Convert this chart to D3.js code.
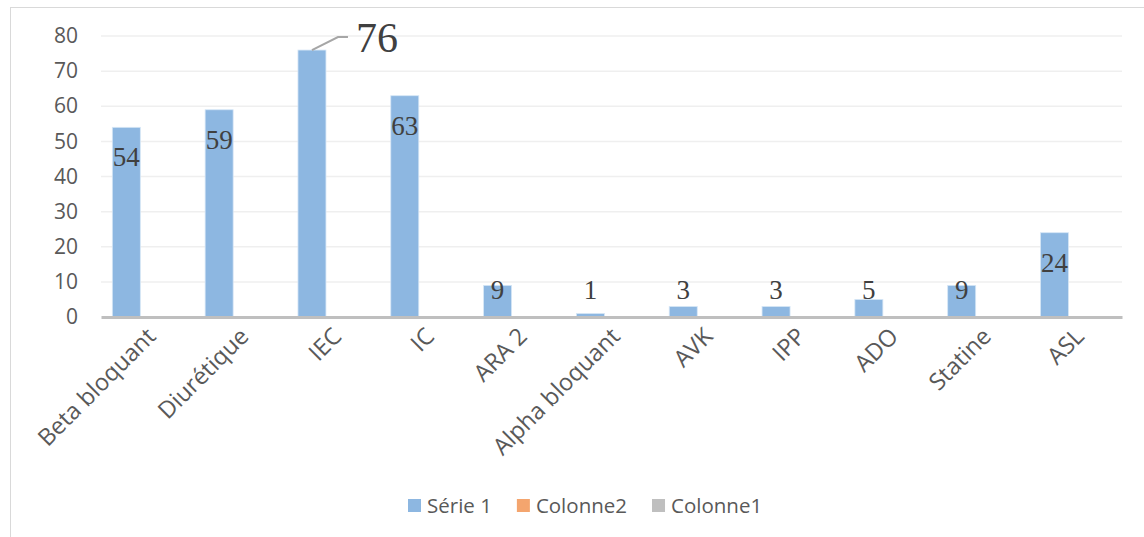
<!DOCTYPE html>
<html>
<head>
<meta charset="utf-8">
<script src="https://cdn.jsdelivr.net/npm/d3@7"></script>
<style>
  body { margin: 0; background: #fff; }
  svg text { font-family: "Open Sans", sans-serif; }
</style>
</head>
<body>
<svg id="chart" width="1144" height="537"></svg>
<script>
const categories = ['Beta bloquant', 'Diurétique', 'IEC', 'IC', 'ARA 2', 'Alpha bloquant', 'AVK', 'IPP', 'ADO', 'Statine', 'ASL'];
const serie1 = [54, 59, 76, 63, 9, 1, 3, 3, 5, 9, 24];
const seriesNames = ['Série 1', 'Colonne2', 'Colonne1'];
const seriesColors = ['#8db7e1', '#f4a56e', '#bfbfbf'];
const yTicks = [0, 10, 20, 30, 40, 50, 60, 70, 80];
const CALLOUT = 2;   // the IEC label is pulled out with a leader line

let svg = d3.select('#chart');

// chart frame (cut off on the right and bottom like the picture)
svg.append('rect')
  .attr('x', 10.5).attr('y', 7.5)
  .attr('width', 1200).attr('height', 600)
  .attr('fill', 'none')
  .attr('stroke', '#d9d9d9');

let x = d3.scaleBand()
  .domain(categories)
  .range([101, 1122]);

let y = d3.scaleLinear()
  .domain([0, 80])
  .range([317, 36]);

// three series share one group, only the first has values
let xs = d3.scaleBand()
  .domain(seriesNames)
  .range([x.bandwidth() * 0.122, x.bandwidth() * 0.122 + x.bandwidth() * 0.905]);

// gridlines
svg.append('g')
  .selectAll('line')
  .data(yTicks.filter(d => d > 0))
  .join('line')
  .attr('x1', 101).attr('x2', 1122)
  .attr('y1', d => y(d)).attr('y2', d => y(d))
  .attr('stroke', '#efefef')
  .attr('stroke-width', 1.5);

// y axis labels
let yAxis = svg.append('g')
  .attr('transform', 'translate(78,0)')
  .call(d3.axisLeft(y).tickValues(yTicks).tickSize(0).tickPadding(0));
yAxis.select('.domain').remove();
yAxis.selectAll('text')
  .attr('fill', '#595959')
  .style('font-size', '21px');

// bars
svg.append('g')
  .selectAll('rect')
  .data(serie1)
  .join('rect')
  .attr('x', (d, i) => x(categories[i]) + xs('Série 1'))
  .attr('y', d => y(d))
  .attr('width', xs.bandwidth())
  .attr('height', d => y(0) - y(d))
  .attr('fill', seriesColors[0])
  .attr('stroke', '#d6e6f6')
  .attr('stroke-width', 0.8);

// category axis
let xAxis = svg.append('g')
  .attr('transform', 'translate(0,' + y(0) + ')')
  .call(d3.axisBottom(x).tickSize(0).tickPadding(0));
xAxis.select('.domain')
  .attr('stroke', '#bfbfbf')
  .attr('stroke-width', 3);
xAxis.selectAll('text')
  .attr('fill', '#595959')
  .style('font-size', '23.5px')
  .attr('text-anchor', 'end')
  .attr('dy', '0.35em')
  .attr('transform', 'translate(4,15) rotate(-45)');

// data labels
let labels = svg.append('g')
  .attr('fill', '#404040');

labels.selectAll('text')
  .data(serie1.map((v, i) => ({ v: v, i: i })).filter(d => d.i !== CALLOUT))
  .join('text')
  .attr('x', d => x(categories[d.i]) + xs('Série 1') + xs.bandwidth() / 2)
  .attr('y', d => Math.min(y(d.v) + 39, y(0) - 18))
  .attr('text-anchor', 'middle')
  .style('font-family', '"Liberation Serif", "Times New Roman", serif')
  .style('font-size', '27px')
  .text(d => d.v);

// callout label with leader line
let cx = x(categories[CALLOUT]) + xs('Série 1') + xs.bandwidth() / 2;
let cy = y(serie1[CALLOUT]);
svg.append('path')
  .attr('d', d3.line()([[cx, cy], [cx + 26, cy - 13], [cx + 36, cy - 13]]))
  .attr('fill', 'none')
  .attr('stroke', '#a6a6a6')
  .attr('stroke-width', 2);
labels.append('text')
  .attr('x', cx + 44)
  .attr('y', cy + 2)
  .style('font-family', '"Liberation Serif", "Times New Roman", serif')
  .style('font-size', '42px')
  .text(serie1[CALLOUT]);

// legend
let legend = svg.append('g');
let lx = 408;
seriesNames.forEach((name, i) => {
  let item = legend.append('g').attr('transform', 'translate(' + lx + ',0)');
  item.append('rect')
    .attr('x', 0).attr('y', 499)
    .attr('width', 13).attr('height', 13)
    .attr('fill', seriesColors[i]);
  let t = item.append('text')
    .attr('x', 19).attr('y', 506)
    .attr('dy', '0.35em')
    .attr('fill', '#595959')
    .style('font-size', '20.5px')
    .text(name);
  lx += 19 + t.node().getComputedTextLength() + 25;
});
</script>
</body>
</html>
